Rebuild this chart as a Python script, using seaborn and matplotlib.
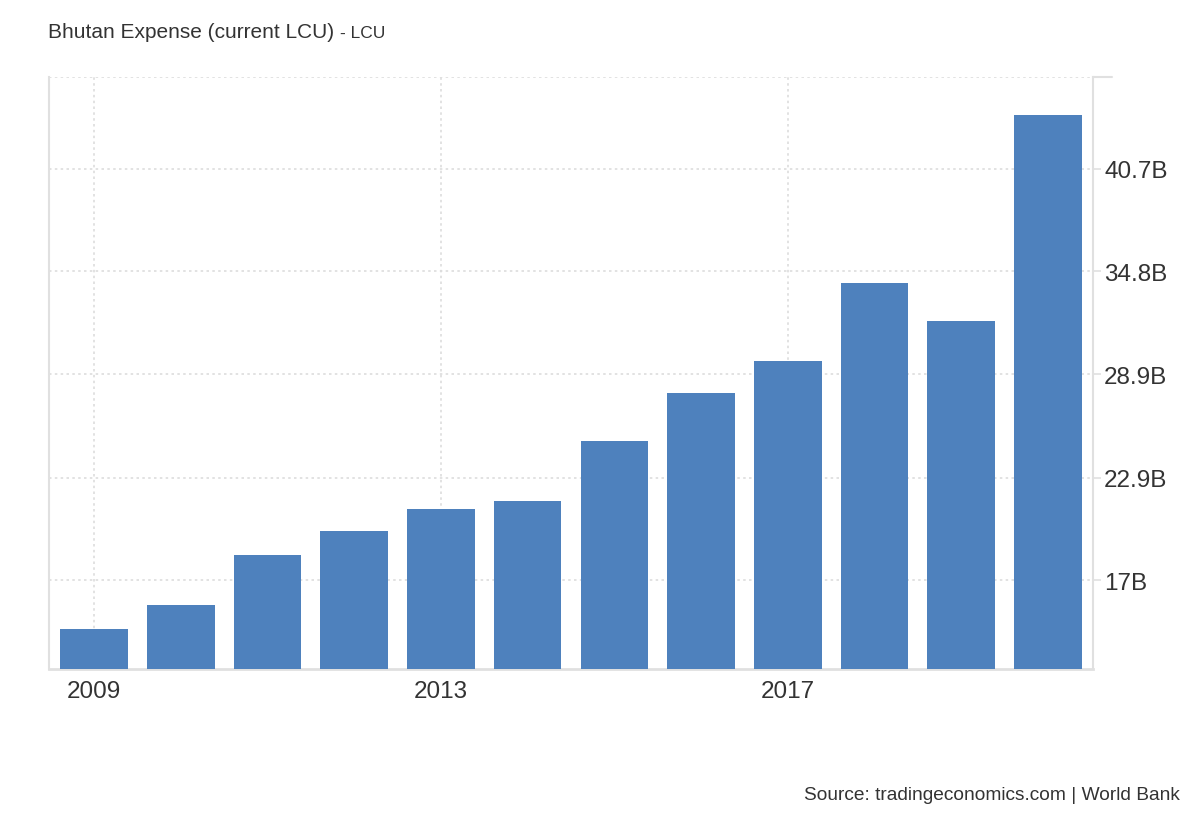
import numpy as np
import pandas as pd
import matplotlib
matplotlib.use("Agg")
import matplotlib.pyplot as plt
import seaborn as sns

# dane (mld LCU)
years = ["2009", "2010", "2011", "2012", "2013", "2014",
         "2015", "2016", "2017", "2018", "2019", "2020"]
expense_b = [14.17, 15.56, 18.44, 19.83, 21.09, 21.56,
             25.02, 27.78, 29.63, 34.13, 31.94, 43.82]
ytick_vals = [17.0, 22.9, 28.85, 34.8, 40.7]
ytick_labels = ["17B", "22.9B", "28.9B", "34.8B", "40.7B"]
xtick_years = ["2009", "2013", "2017"]

BAR_COLOR = "#4e81bd"
TEXT_COLOR = "#333333"
GRID_COLOR = "#dddddd"
Y_TOP = 46.0

sns.set_theme(style="white")
plt.rcParams["font.family"] = ["Liberation Sans", "DejaVu Sans"]

df = pd.DataFrame({"year": years, "value": expense_b})

fig = plt.figure(figsize=(12, 8.2), dpi=100)
ax = fig.add_axes([49 / 1200, 1 - 670 / 820, (1093 - 49) / 1200, (670 - 78) / 820])

sns.barplot(data=df, x="year", y="value", order=years, color=BAR_COLOR,
            saturation=1, width=0.78, linewidth=0, ax=ax, zorder=3)

ax.set_xlim(-0.52, 11.52)
ax.set_ylim(11.87, Y_TOP)

# siatka
for v in ytick_vals + [Y_TOP]:
    ax.axhline(v, color=GRID_COLOR, lw=1.2, ls=(0, (1.5, 2)), zorder=1)
for y in xtick_years:
    ax.axvline(years.index(y), color=GRID_COLOR, lw=1.2, ls=(0, (1.5, 2)), zorder=1)
# górna linia wychodząca poza oś
ax.plot([1.0, 1.018], [1.0, 1.0], transform=ax.transAxes, color="#e0e0e0",
        lw=1.5, clip_on=False)

ax.yaxis.tick_right()
ax.set_yticks(ytick_vals)
ax.set_yticklabels(ytick_labels)
ax.tick_params(axis="y", length=6, width=1.2, color="#e0e0e0", pad=2,
               labelsize=17.5, labelcolor=TEXT_COLOR)

ax.set_xticks([years.index(y) for y in xtick_years])
ax.set_xticklabels(xtick_years)
ax.tick_params(axis="x", length=0, pad=8, labelsize=17.5, labelcolor=TEXT_COLOR)

ax.set_xlabel("")
ax.set_ylabel("")

for side in ["left", "right", "bottom"]:
    ax.spines[side].set_visible(True)
    ax.spines[side].set_color("#e0e0e0")
ax.spines["bottom"].set_linewidth(2)
ax.spines["left"].set_linewidth(1.5)
ax.spines["right"].set_linewidth(1.5)
ax.spines["top"].set_visible(False)

# tytuł
t1 = fig.text(48 / 1200, 1 - 32 / 820, "Bhutan Expense (current LCU)",
              fontsize=15, color=TEXT_COLOR, va="center", ha="left")
fig.canvas.draw()
bb = t1.get_window_extent()
fig.text((bb.x1 + 6) / 1200, 1 - 33 / 820, "- LCU",
         fontsize=12.5, color=TEXT_COLOR, va="center", ha="left")

fig.text(1180 / 1200, 1 - 796 / 820, "Source: tradingeconomics.com | World Bank",
         fontsize=13.8, color=TEXT_COLOR, va="center", ha="right")

fig.savefig("out.png", dpi=100, facecolor="white")
